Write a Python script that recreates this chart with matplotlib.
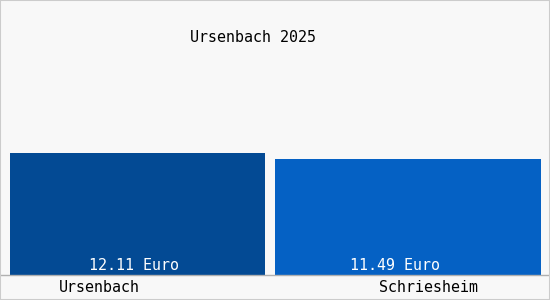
import matplotlib
matplotlib.use("Agg")
import matplotlib.pyplot as plt
from matplotlib.patches import Rectangle
from matplotlib.lines import Line2D

categories = ["Ursenbach", "Schriesheim"]
values = [12.11, 11.49]
value_labels = ["12.11 Euro", "11.49 Euro"]
title = "Ursenbach 2025"
colors = ["#034a94", "#0561c4"]

W, H = 550, 300
fig = plt.figure(figsize=(W/100, H/100), dpi=100)
fig.patch.set_facecolor("#f8f8f8")
fig.patches.append(Rectangle((0, 0), 1, 1, transform=fig.transFigure, fill=False,
                             edgecolor="#cccccc", linewidth=1.5))

# axes spanning the full width, x in pixel units
bottom, top = 300-275, 300-20
ax = fig.add_axes([0, bottom/H, 1, (top-bottom)/H])
ax.set_facecolor("none")
px_per_unit = 122/12.11
ax.set_ylim(0, (top-bottom)/px_per_unit)
ax.set_xlim(0, W)
bar_left = [10, 275]
bar_width = [255, 266]
ax.bar(bar_left, values, width=bar_width, align="edge", color=colors, zorder=2)
for s in ["top", "right", "left"]:
    ax.spines[s].set_visible(False)
ax.spines["bottom"].set_color("#b0b0b0")
ax.spines["bottom"].set_linewidth(1.0)
ax.set_xticks([])
ax.set_yticks([])

font = dict(family="DejaVu Sans Mono", fontsize=10.8)
label_cx = [134, 395]
for cx, lab in zip(label_cx, value_labels):
    ax.text(cx, 0.15, lab, ha="center", va="bottom", color="white", **font)

fig.text(253/W, 1-38/H, title, ha="center", va="center", color="black", **font)
cat_x = [99, 429]
for lx, c in zip(cat_x, categories):
    fig.text(lx/W, 1-288/H, c, ha="center", va="center", color="black", **font)

fig.savefig("out.png", dpi=100, facecolor=fig.get_facecolor())
